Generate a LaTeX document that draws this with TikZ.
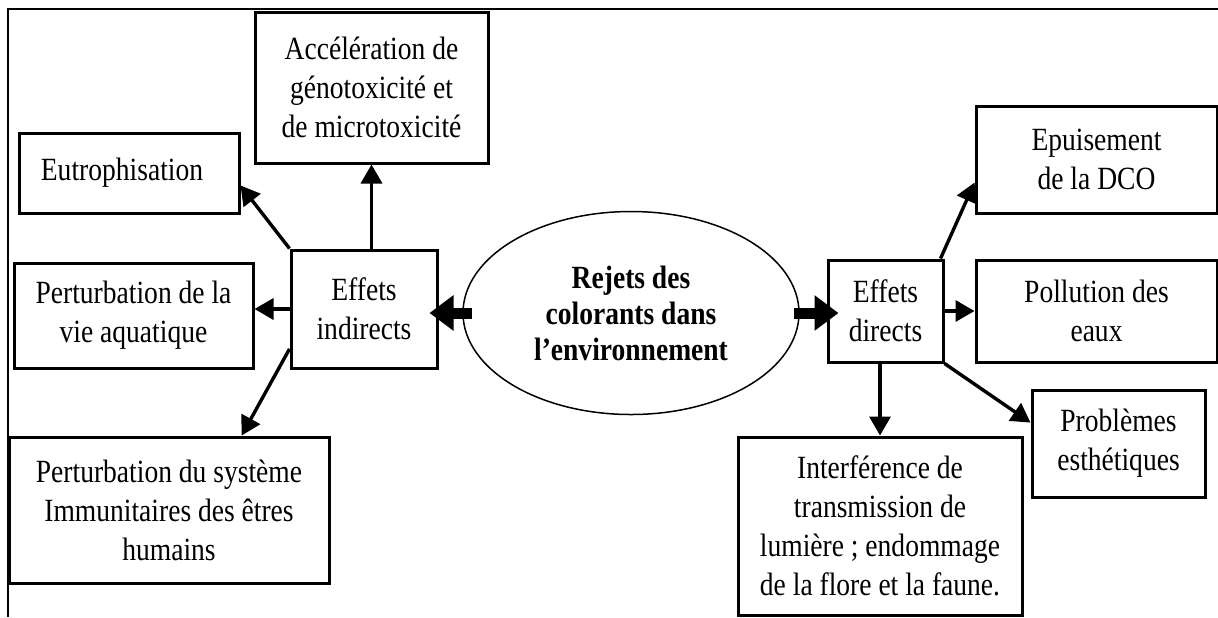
\documentclass[tikz,border=0pt]{standalone}
\usepackage{fontspec}
\setmainfont{Liberation Serif}[FakeStretch=0.85]
\usetikzlibrary{arrows.meta,calc,positioning,shapes.geometric}

\begin{document}
\begin{tikzpicture}[x=0.5pt,y=-0.5pt,
    box/.style={draw,line width=1.5pt,align=center,inner sep=2pt,
        font=\fontsize{16.2pt}{19.5pt}\selectfont},
    arr/.style={line width=1.7pt,-{Triangle[length=9.5pt,width=10.5pt]}},
    bigarr/.style={line width=5.5pt,-{Triangle[length=12pt,width=17pt]}}]
    \useasboundingbox (0,0) rectangle (1218,617);
    % cadre
    \draw[line width=1.2pt] (1218,9) -| (8,617);

    % centre
    \node[ellipse,draw,line width=0.75pt,minimum width=168pt,minimum height=101.5pt,
        align=center,font=\fontsize{16.2pt}{18pt}\selectfont\bfseries] (rejets) at (631,313)
        {Rejets des\\colorants dans\\l’environnement};

    % effets indirects
    \node[box,minimum width=73pt,minimum height=59pt] (indirect) at (364,309) {Effets\\indirects};
    \node[box,minimum width=116.5pt,minimum height=75.5pt] (accel) at (371.5,87.5)
        {Accélération de\\génotoxicité et\\de microtoxicité};
    \node[box,minimum width=110pt,minimum height=40pt] (eutro) at (129,173) {Eutrophisation\hspace*{7pt}};
    \node[box,minimum width=119.5pt,minimum height=52.5pt] (vie) at (133.5,315.5)
        {Perturbation de la\\vie aquatique};
    \node[box,minimum width=160pt,minimum height=73pt] (systeme) at (169,510)
        {Perturbation du système\\Immunitaires des êtres\\humains};

    % effets directs
    \node[box,minimum width=57.5pt,minimum height=51pt] (direct) at (885.5,311) {Effets\\directs};
    \node[box,minimum width=120.5pt,minimum height=53.5pt] (epuis) at (1096.5,159.5)
        {Epuisement\\de la DCO};
    \node[box,minimum width=120.5pt,minimum height=51pt] (pollution) at (1096.5,311)
        {Pollution des\\eaux};
    \node[box,minimum width=142pt,minimum height=89pt] (interf) at (880,526)
        {Interférence de\\transmission de\\lumière ; endommage\\de la flore et la faune.};
    \node[box,minimum width=86.5pt,minimum height=53.5pt] (problemes) at (1118.5,443.5)
        {Problèmes\\esthétiques};

    % fleches
    \draw[bigarr,shorten <=-5pt,shorten >=-4.5pt] (rejets.west) -- (rejets.west -| indirect.east);
    \draw[bigarr,shorten <=-3pt,shorten >=-6pt] (rejets.east) -- (rejets.east -| direct.west);

    \draw[arr] (indirect.north -| accel.south) -- (accel.south);
    \draw[arr] (indirect.north west) -- ($(eutro.east)!0.3!(eutro.south east)$);
    \draw[arr] (indirect.west) -- (indirect.west -| vie.east);
    \draw[arr] ($(indirect.south west)!0.17!(indirect.north west)$) -- ($(systeme.north)!0.45!(systeme.north east)$);

    \draw[arr] ($(direct.north east)+(-4,0)$) -- ($(epuis.west)!0.42!(epuis.south west)$);
    \draw[arr] (direct.east) -- (pollution.west);
    \draw[arr] (direct.south -| interf.north) -- (interf.north);
    \draw[arr] (direct.south east) -- ($(problemes.west)!0.38!(problemes.north west)$);
\end{tikzpicture}
\end{document}
